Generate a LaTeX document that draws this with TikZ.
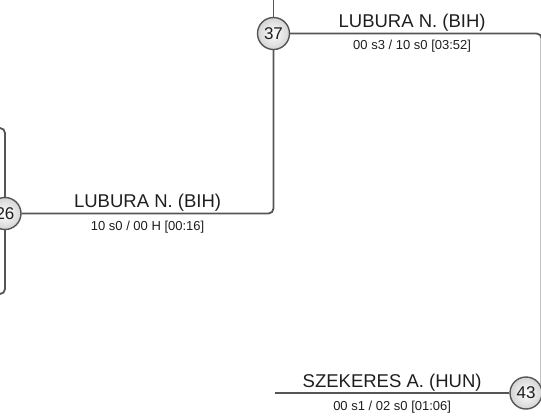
\documentclass[tikz,border=0pt]{standalone}
\usepackage{fontspec}
\setmainfont{Liberation Sans}
\definecolor{linegray}{HTML}{555555}
\definecolor{ballfill}{HTML}{D4D4D4}
\definecolor{inkgray}{HTML}{1E1E1E}

\begin{document}
\begin{tikzpicture}[x=1pt,y=-1pt,
 match/.style={circle,draw=linegray,line width=1.4pt,inner sep=0pt,minimum size=32pt,
  inner color=white,outer color=ballfill,text=inkgray,font=\fontsize{17}{17}\selectfont},
 bracket/.style={draw=linegray,line width=1.8pt,rounded corners=5pt},
 player/.style={anchor=base,text=inkgray,font=\fontsize{18.5}{20}\selectfont},
 score/.style={anchor=base,text=inkgray,font=\fontsize{13}{15}\selectfont}]
\useasboundingbox (0,0) rectangle (541,416);
\clip (0,0) rectangle (541,416);
\coordinate (top26) at (-10,128);
\coordinate (bot26) at (-10,294);
\coordinate (turn26) at (273.5,213.5);
\coordinate (top37) at (273.5,-5);
\coordinate (right37) at (541.6,33.5);
\coordinate (start43) at (275,393);
\node[match] (m26) at (5,213.5) {26};
\node[match] (m37) at (273.5,33.5) {37};
\node[match] (m43) at (526,393) {43};
% bracket lines
\draw[bracket] (top26) -| (m26);
\draw[bracket] (m26) |- (bot26);
\draw[bracket] (m26) -- (turn26) -- (m37);
\draw[bracket] (m37) -- (top37);
\draw[bracket] (m37) -- (right37) -- (m43.22);
\draw[bracket] (start43) -- (m43);
% names and scores
\path (m26) -- (turn26)
 node[midway,player,yshift=6pt] (p26) {LUBURA N. (BIH)}
 node[midway,score,yshift=-16.5pt] (s26) {10 s0 / 00 H [00:16]};
\path (m37) -- (right37)
 node[pos=.485,player,yshift=6pt] (p37) {LUBURA N. (BIH)}
 node[pos=.485,score,yshift=-16pt] (s37) {00 s3 / 10 s0 [03:52]};
\path (start43) -- (m43)
 node[midway,player,yshift=6pt] (p43) {SZEKERES A. (HUN)}
 node[midway,score,yshift=-17pt] (s43) {00 s1 / 02 s0 [01:06]};
\end{tikzpicture}
\end{document}
